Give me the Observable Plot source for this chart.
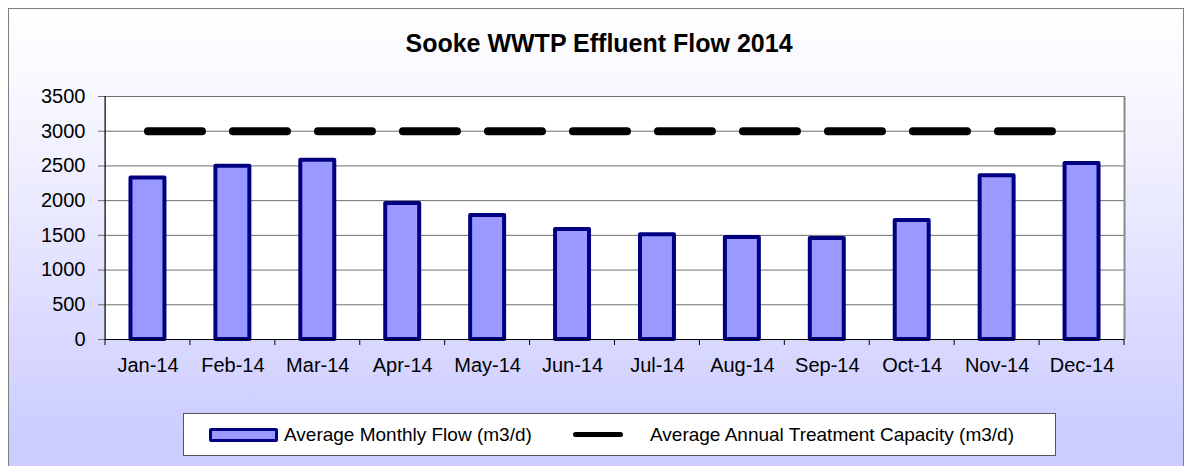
<!DOCTYPE html>
<html><head><meta charset="utf-8">
<script src="https://cdn.jsdelivr.net/npm/d3@7"></script>
<script src="https://cdn.jsdelivr.net/npm/@observablehq/plot@0.6"></script>
<style>
html,body{margin:0;padding:0;width:1184px;height:466px;overflow:hidden;background:#fff;font-family:"Liberation Sans",Arial,sans-serif;}
#frame{position:absolute;left:8px;top:8px;width:1176px;height:470px;border:1px solid #7f7f7f;box-sizing:border-box;background:linear-gradient(to bottom,#ffffff 0%,#f4f4ff 25%,#ccccff 92%);}
#title{position:absolute;left:0;width:1198px;top:31px;text-align:center;font-weight:bold;font-size:25px;line-height:25px;color:#000;white-space:nowrap;}
#chart{position:absolute;left:0;top:0;}
#chart svg{background:transparent;overflow:visible;}
#legend{position:absolute;left:183px;top:413px;width:873px;height:43px;box-sizing:border-box;background:#fff;border:1px solid #555;font-size:19px;color:#000;}
.sw1{position:absolute;left:25px;top:14px;width:69px;height:14px;box-sizing:border-box;border:3.5px solid #000080;border-radius:2px;background:#9999ff;}
.sw2{position:absolute;left:389px;top:18px;width:50px;height:5px;border-radius:3px;background:#000;}
.lt{position:absolute;top:10px;line-height:21px;white-space:nowrap;}
</style></head>
<body>
<div id="frame"></div>
<div id="chart"></div>
<div id="title"></div>
<div id="legend"></div>
<script>
const title = "Sooke WWTP Effluent Flow 2014";
const months = ["Jan-14","Feb-14","Mar-14","Apr-14","May-14","Jun-14","Jul-14","Aug-14","Sep-14","Oct-14","Nov-14","Dec-14"];
const flow = [2325, 2495, 2580, 1960, 1785, 1585, 1510, 1470, 1455, 1715, 2360, 2535];
const capacity = [3000, 3000, 3000, 3000, 3000, 3000, 3000, 3000, 3000, 3000, 3000, 3000];
const yTicks = [0, 500, 1000, 1500, 2000, 2500, 3000, 3500];
const seriesNames = ["Average Monthly Flow (m3/d)", "Average Annual Treatment Capacity (m3/d)"];

const data = months.map((m, i) => ({month: m, flow: flow[i], capacity: capacity[i]}));
const pad = 0.6;

function axisLines(index, scales, values, dims) {
  const x = scales.x, y = scales.y;
  const g = d3.create("svg:g");
  const step = x(months[1]) - x(months[0]);
  const bw = step * (1 - pad);
  const y0 = y(0), yTop = y(3500);
  const bounds = months.map(m => x(m) - step * pad / 2);
  bounds.push(x(months[months.length - 1]) + bw + step * pad / 2);
  g.append("line").attr("x1", bounds[bounds.length-1] + 0.5).attr("x2", bounds[bounds.length-1] + 0.5)
    .attr("y1", yTop).attr("y2", y0).attr("stroke", "#8a8a8a").attr("stroke-width", 2);
  g.append("line").attr("x1", dims.marginLeft).attr("x2", dims.marginLeft)
    .attr("y1", yTop).attr("y2", y0).attr("stroke", "#000").attr("stroke-width", 1);
  for (const b of bounds) {
    g.append("line").attr("x1", b).attr("x2", b).attr("y1", y0).attr("y2", y0 + 6)
      .attr("stroke", "#000").attr("stroke-width", 1);
  }
  return g.node();
}

const plot = Plot.plot({
  width: 1184,
  height: 400,
  marginTop: 96,
  marginLeft: 105,
  marginRight: 60,
  marginBottom: 61,
  style: {fontFamily: "Liberation Sans, Arial, sans-serif", fontSize: "20px", color: "#000", background: "transparent"},
  x: {domain: months, paddingInner: pad, paddingOuter: pad / 2, round: false, label: null},
  y: {domain: [0, 3500], label: null},
  marks: [
    Plot.frame({fill: "white", stroke: "#8a8a8a"}),
    Plot.gridY(yTicks, {stroke: "#6e6e6e", strokeOpacity: 1}),
    Plot.axisY(yTicks, {tickSize: 7, tickPadding: 13, tickFormat: d3.format("d"), label: null, fontSize: 20, stroke: "#6e6e6e"}),
    Plot.axisX({tickSize: 0, tickPadding: 18, label: null, fontSize: 20}),
    Plot.barY(data, {x: "month", y: "flow", fill: "#9999ff", stroke: "#000080", strokeWidth: 4, strokeLinejoin: "round"}),
    Plot.line(data, {x: "month", y: "capacity", stroke: "#000", strokeWidth: 8, strokeDasharray: "54,31", strokeLinecap: "round"}),
    Plot.ruleY([0], {stroke: "#000", strokeWidth: 1}),
    axisLines
  ]
});
document.getElementById("chart").appendChild(plot);
document.getElementById("title").textContent = title;

const lg = document.getElementById("legend");
lg.innerHTML = `<div class="sw1"></div><div class="lt" style="left:100px">${seriesNames[0]}</div>` +
  `<div class="sw2"></div><div class="lt" style="left:466px">${seriesNames[1]}</div>`;
</script>
</body></html>
